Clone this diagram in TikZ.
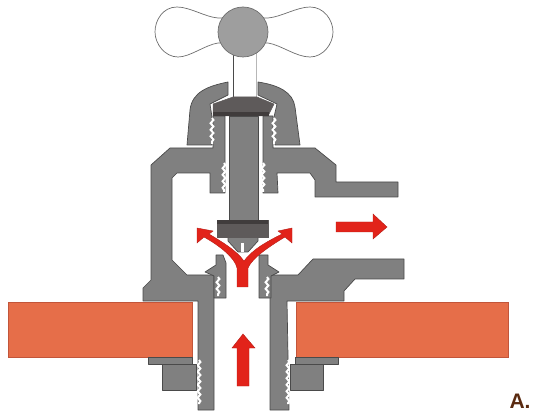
\documentclass[tikz,border=0pt]{standalone}
\usepackage{fontspec}
\setmainfont{Liberation Sans}
\usetikzlibrary{decorations.pathmorphing}
\definecolor{valvegray}{HTML}{808080}
\definecolor{valveline}{HTML}{4A4A4A}
\definecolor{platefill}{HTML}{E66E49}
\definecolor{plateline}{HTML}{C2553A}
\definecolor{flowred}{HTML}{E2231A}
\definecolor{disklight}{HTML}{5E5A5A}
\definecolor{diskdark}{HTML}{403C3C}
\definecolor{labelbrown}{HTML}{5A2A10}
\tikzset{
  metal/.style={draw=valveline,fill=valvegray,line width=.7pt,line join=round},
  plate/.style={draw=plateline,fill=platefill,line width=.7pt},
  disk/.style={draw=disklight,fill=disklight,line width=.5pt},
  flow/.style={fill=flowred,draw=flowred!80!black,line width=.4pt,line join=miter},
  threadline/.style={white,line width=2pt,decorate,decoration={snake,segment length=6.5pt,amplitude=1.4pt}},
}
\begin{document}
\begin{tikzpicture}[x=1pt,y=-1pt]
	\useasboundingbox(0,0)rectangle(533,414);
	% handle
	\draw[draw=valveline!80,fill=white,line width=.7pt](218,18)..controls(205,17)and(190,7)..(177,7)
		..controls(163,7)and(155,20)..(155,32)..controls(155,44)and(165,57)..(178,57)
		..controls(190,57)and(205,45)..(218,43)--(268,43)..controls(281,45)and(296,57)..(310,57)
		..controls(323,57)and(333,44)..(333,32)..controls(333,20)and(324,7)..(310,7)
		..controls(297,7)and(281,17)..(268,18)--cycle;
	\draw[draw=valveline,line width=.8pt](233,50)--(233,97);
	\draw[draw=valveline!40,line width=.8pt](256,50)--(256,97);
	\draw[draw=valveline!80,fill=black!38,line width=.7pt](243,32)circle(25);
	% bonnet
	\draw[metal](228,82)..controls(208,86)and(192,92)..(190,110)--(187,145)--(212,145)--(212,117)--(210,104)--(228,95)--cycle;
	\draw[metal](258,82)..controls(278,85)and(293,92)..(295,107)--(300,145)--(275,145)--(274,117)--(277,104)--(258,95)--cycle;
	% body
	\draw[metal](213,116)--(213,148)--(170,148)--(151,165)--(151,280)--(143,288)--(143,301)--(198,301)--(198,410)
		--(214,410)--(214,275)--(187,275)--(172,260)--(172,178)--(177,173)--(210,173)--(210,193)--(225,193)--(225,116)--cycle;
	\draw[metal](263,116)--(273,116)--(273,148)--(315,148)--(336,165)--(336,182)--(398,182)--(398,197)--(315,197)
		--(315,180)--(310,173)--(277,173)--(278,193)--(263,193)--cycle;
	\draw[metal](270,410)--(270,275)--(298,275)--(313,259)--(404,259)--(404,279)--(355,279)--(344,291)--(344,301)
		--(287,301)--(289,410)--cycle;
	% seat rings
	\draw[metal](216,255)--(223,255)--(226,263)--(226,298)--(214,298)--(214,276)--(212,275)--(205,272)--(216,265)--cycle;
	\draw[metal](259,255)--(268,255)--(268,265)--(279,272)--(271,276)--(271,298)--(259,298)--cycle;
	% stem
	\draw[metal](229,116)rectangle(258,222);
	\draw[metal](228,237)--(258,237)--(258,241)--(248,252)--(238,252)--(228,241)--cycle;
	\fill[white](241,243)rectangle(244,252);
	\draw[disk](213,104)--(233,97)--(257,97)--(274,104)--(268,116)--(213,116)--cycle;
	\fill[diskdark](213,112)rectangle(269,116);
	\draw[disk](217,220)rectangle(268,237);
	\fill[diskdark](217,220)rectangle(268,224);
	% threads
	\draw[threadline](212,118)--(212,144);
	\draw[threadline](274,118)--(274,144);
	\draw[white,line width=1pt](227,117)--(227,193);
	\draw[white,line width=1pt](260.5,117)--(260.5,193);
	\draw[threadline](224,163)--(224,192);
	\draw[threadline](263,163)--(263,192);
	\draw[threadline](218,277)--(218,296);
	\draw[threadline](267,277)--(267,296);
	\draw[threadline](199,360)--(199,404);
	\draw[threadline](288,360)--(288,404);
	% plates and nuts
	\draw[plate](8,302)rectangle(192,357);
	\draw[plate](296,302)rectangle(508,357);
	\draw[metal](148,357)rectangle(192,364);
	\draw[metal](162,364)rectangle(196,390);
	\draw[metal](295,357)rectangle(338,364);
	\draw[metal](290,364)rectangle(323,390);
	% arrows
	\draw[flow](336,222)--(373,222)--(373,214)--(387,227)--(373,239)--(373,232)--(336,232)--cycle;
	\draw[flow](237,386)--(237,348)--(232,348)--(243,334)--(255,348)--(249,348)--(249,386)--cycle;
	\draw[flow](237,287)--(237,268)..controls(235,258)and(220,246)..(204,237)--(197,243)--(197,228)--(213,231)
		--(209,234)..controls(222,242)and(236,250)..(244,261)..controls(252,250)and(266,242)..(282,234)
		--(278,231)--(292,228)--(292,243)--(285,237)..controls(270,246)and(252,258)..(248,268)--(248,287)--cycle;
	\node[font=\fontsize{21}{21}\bfseries\selectfont,text=labelbrown,anchor=base,inner sep=0pt] (labelA) at (520,408) {A.};
\end{tikzpicture}
\end{document}
